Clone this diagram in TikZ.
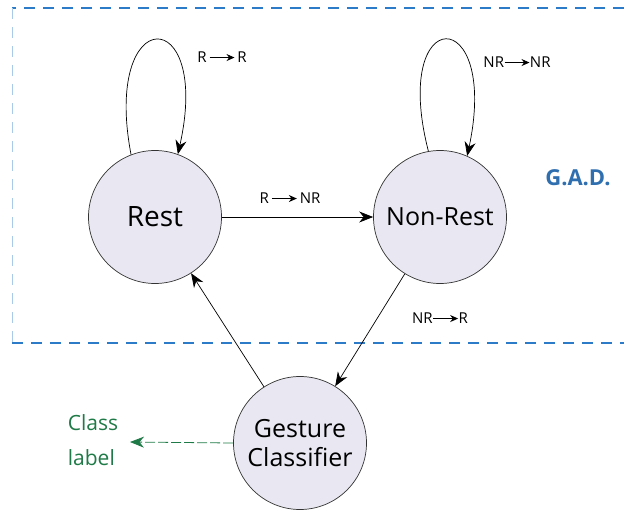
\documentclass[tikz,border=0pt]{standalone}
\usepackage{fontspec}
\setmainfont{Open Sans}
\usetikzlibrary{arrows.meta}
\definecolor{nodefill}{HTML}{E9E7F1}
\definecolor{boxblue}{HTML}{2B7BC8}
\definecolor{gadblue}{HTML}{2F6FB0}
\definecolor{lblgreen}{HTML}{1E7A46}
\newcommand{\tarr}{\tikz[baseline=-0.6ex]\draw[line width=0.9pt,-{Stealth[length=8pt,width=7pt]}] (0,0)--(25pt,0);}
\tikzset{
  state/.style={circle, draw=black!80, line width=0.7pt, fill=nodefill, minimum size=133pt, inner sep=0pt, align=center, font=\fontsize{25}{29}\selectfont},
  trans/.style={line width=0.7pt, -{Stealth[length=14pt,width=11pt]}},
  lbl/.style={font=\fontsize{15}{17}\selectfont, inner sep=1pt},
  gad/.style={draw=boxblue, line width=1.4pt, dash pattern=on 11pt off 8pt}
}
\begin{document}
\begin{tikzpicture}[x=1pt,y=-1pt]
\useasboundingbox (0,0) rectangle (624,511);
% dashed G.A.D. box
\coordinate (tl) at (12,8);
\coordinate (tr) at (624,8);
\coordinate (bl) at (12,343);
\coordinate (br) at (624,343);
\draw[gad] (tr) -- (tl);
\draw[gad, draw=boxblue!40, line width=1pt] (tl) -- (bl);
\draw[gad] (bl) -- (br);
\node[gadblue, font=\fontsize{22}{24}\selectfont\bfseries] (gadlbl) at (578,178) {G.A.D.};
% states
\node[state] (rest) at (155,217) {\fontsize{28}{32}\selectfont Rest};
\node[state] (nonrest) at (440,217) {Non-Rest};
\node[state] (gc) at (300,443) {Gesture\\Classifier};
% self loops
\draw[trans] (rest.111) .. controls (102,2) and (212,2) .. (rest.70);
\draw[trans] (nonrest.100) .. controls (390,2) and (500,2) .. (nonrest.66);
\node[lbl] (lrr) at (222,57) {R\,\tarr\,R};
\node[lbl] (lnn) at (517,62) {NR\tarr NR};
% transitions
\draw[trans] (rest) -- (nonrest);
\node[lbl] (lrn) at (290,198) {R\,\tarr\,NR};
\draw[trans] (nonrest) -- (gc);
\node[lbl] (lnr) at (440,318) {NR\tarr R};
\draw[trans] (gc) -- (rest);
% class label
\node[lblgreen, align=left, font=\fontsize{21}{35}\selectfont] (cls) at (93,440) {Class\\label};
\coordinate (clsarr) at (130,442);
\draw[lblgreen, line width=0.8pt, dash pattern=on 10pt off 3pt, -{Stealth[length=14pt,width=11pt]}] (gc.west) -- (clsarr);
\end{tikzpicture}
\end{document}
